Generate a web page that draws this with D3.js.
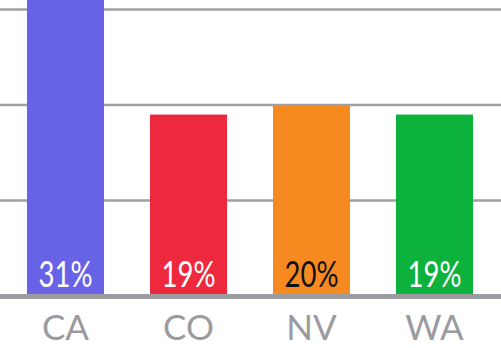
<!DOCTYPE html>
<html>
<head>
<meta charset="utf-8">
<script src="https://cdn.jsdelivr.net/npm/d3@7"></script>
<style>
  html, body { margin: 0; padding: 0; background: #fff; }
  svg { display: block; }
</style>
</head>
<body>
<div id="chart"></div>
<script>
const categories = ["CA", "CO", "NV", "WA"];
const values = [31, 19, 20, 19];
const colors = ["#6863e6", "#ee293d", "#f68a21", "#0cb23c"];
const labelColors = ["#ffffff", "#ffffff", "#111111", "#ffffff"];
const gridTicks = [10, 20, 30];

const W = 501, H = 348;
const svg = d3.select("#chart").append("svg").attr("width", W).attr("height", H);

const x = d3.scaleBand().domain(categories).range([4, 496]).paddingInner(0.374).paddingOuter(0.187);
const y = d3.scaleLinear().domain([0, 30]).range([296, 9.5]);

// gridlines
svg.append("g").selectAll("line").data(gridTicks).join("line")
  .attr("x1", 0).attr("x2", W)
  .attr("y1", d => y(d)).attr("y2", d => y(d))
  .attr("stroke", "#a0a0a3").attr("stroke-width", 2.5);

// bars
svg.append("g").selectAll("rect").data(categories).join("rect")
  .attr("x", d => x(d))
  .attr("width", x.bandwidth())
  .attr("y", (d, i) => y(values[i]))
  .attr("height", (d, i) => y(0) - y(values[i]))
  .attr("fill", (d, i) => colors[i]);

// baseline
svg.append("line").attr("x1", 0).attr("x2", W)
  .attr("y1", y(0) + 0.5).attr("y2", y(0) + 0.5)
  .attr("stroke", "#9c9ca0").attr("stroke-width", 5);

// value labels
svg.append("g").selectAll("text").data(categories).join("text")
  .attr("x", d => x(d) + x.bandwidth() / 2)
  .attr("y", 287)
  .attr("text-anchor", "middle")
  .attr("font-family", "Lato, 'Noto Sans', sans-serif")
  .attr("font-size", 36)
  .attr("fill", (d, i) => labelColors[i])
  .attr("textLength", 54)
  .attr("lengthAdjust", "spacingAndGlyphs")
  .text((d, i) => values[i] + "%");

// category labels
const xAxis = d3.axisBottom(x).tickSize(0).tickPadding(0);
const gx = svg.append("g").attr("transform", `translate(0,${y(0)})`).call(xAxis);
gx.select(".domain").remove();
gx.selectAll("text")
  .attr("dy", null)
  .attr("y", 44)
  .attr("font-family", "Lato, 'Noto Sans', sans-serif")
  .attr("font-size", 35)
  .attr("fill", "#9b9b9f");
</script>
</body>
</html>
